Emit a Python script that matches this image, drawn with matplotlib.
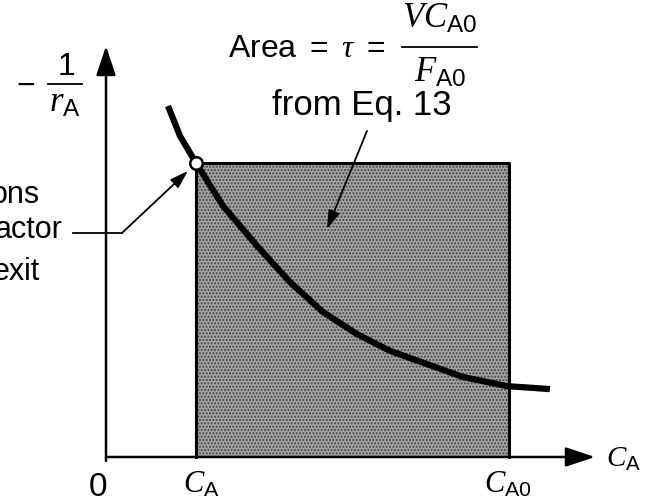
import numpy as np
import matplotlib
matplotlib.use('Agg')
import matplotlib.pyplot as plt

plt.rcParams['font.family'] = 'Liberation Sans'
plt.rcParams['mathtext.fontset'] = 'custom'
plt.rcParams['mathtext.rm'] = 'Liberation Sans'
plt.rcParams['mathtext.it'] = 'Liberation Serif:italic'

# curve -1/rA vs CA
ca = [0.689, 0.822, 1.0, 1.300, 1.678, 2.044, 2.411, 2.789, 3.156, 3.411,
      3.967, 4.456, 4.933]
inv_ra = [1.194, 1.092, 1.0, 0.854, 0.718, 0.595, 0.493, 0.418, 0.361, 0.333,
          0.272, 0.241, 0.231]

ca_exit = 1.0
ca0 = 4.478
inv_ra_exit = 1.0

fig = plt.figure(figsize=(6.45, 5.02), dpi=100)
ax = fig.add_axes([0, 0, 1, 1])
ax.set_xlim(-1.1778, 5.9889)
ax.set_ylim(-0.1497, 1.5578)
ax.axis('off')

# shaded area
ax.fill_between([ca_exit, ca0], 0, inv_ra_exit, facecolor='#a3a3a3',
                edgecolor='#444444', hatch='.....', linewidth=0, zorder=1)
ax.plot([ca_exit, ca_exit, ca0, ca0], [0, inv_ra_exit, inv_ra_exit, 0],
        color='black', lw=2.2, zorder=2)

# axes with arrows
ak = dict(arrowstyle='-|>,head_length=0.9,head_width=0.3', color='black',
          lw=1.8, shrinkA=0, shrinkB=0, mutation_scale=20)
ax.annotate('', xy=(0, 1.398), xytext=(0, -0.013), arrowprops=ak)
ax.annotate('', xy=(5.433, 0), xytext=(0, 0), arrowprops=ak)

# curve
ax.plot(ca, inv_ra, color='black', lw=4.5, solid_capstyle='butt',
        solid_joinstyle='round', zorder=3)
ax.plot([ca_exit], [inv_ra_exit], 'o', ms=9, mfc='white', mec='black',
        mew=1.8, zorder=4)

fs = 23
ax.text(-0.089, -0.129, '0', fontsize=fs + 1, ha='center', va='baseline')
ax.text(1.056, -0.116, r'$C_{\mathrm{A}}$', fontsize=fs - 1, ha='center', va='baseline')
ax.text(4.467, -0.116, r'$C_{\mathrm{A0}}$', fontsize=fs - 1, ha='center', va='baseline')
ax.text(5.556, -0.031, r'$C_{\mathrm{A}}$', fontsize=fs - 2, ha='left', va='baseline')

# -1/rA label
ax.text(-0.99, 1.262, '\u2212', fontsize=fs, ha='left', va='center')
ax.text(-0.444, 1.303, '1', fontsize=fs, ha='center', va='baseline')
ax.plot([-0.644, -0.267], [1.269, 1.269], color='black', lw=1.3)
ax.text(-0.456, 1.177, r'$r_{\mathrm{A}}$', fontsize=fs + 2, ha='center', va='baseline')

# area label
ax.text(1.356, 1.364, r'Area $=$ $\tau$ $=$', fontsize=fs, ha='left', va='baseline')
ax.text(3.711, 1.463, r'$VC_{\mathrm{A0}}$', fontsize=fs + 2, ha='center', va='baseline')
ax.plot([3.289, 4.122], [1.395, 1.395], color='black', lw=1.3)
ax.text(3.711, 1.279, r'$F_{\mathrm{A0}}$', fontsize=fs + 2, ha='center', va='baseline')
ax.text(2.844, 1.167, 'from Eq. 13', fontsize=fs + 2, ha='center', va='baseline')

ax.text(-0.733, 0.867, 'ons', fontsize=fs - 1, ha='right', va='baseline')
ax.text(-0.478, 0.748, 'actor', fontsize=fs - 1, ha='right', va='baseline')
ax.text(-0.733, 0.605, 'exit', fontsize=fs - 1, ha='right', va='baseline')

# leader arrows
lk = dict(arrowstyle='-|>,head_length=1.1,head_width=0.35', color='black',
          lw=1.3, shrinkA=0, shrinkB=0)
ax.plot([-0.367, 0.178], [0.762, 0.762], color='black', lw=1.3)
ax.annotate('', xy=(0.911, 0.973), xytext=(0.178, 0.762), arrowprops=lk)
ax.annotate('', xy=(2.456, 0.776), xytext=(2.9, 1.109), arrowprops=lk)

fig.savefig('out.png', dpi=100)
